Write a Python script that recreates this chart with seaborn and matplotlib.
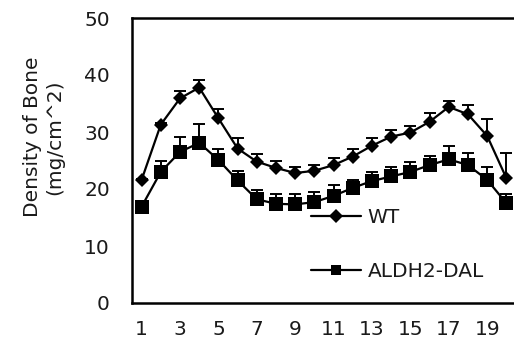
import matplotlib
matplotlib.use("Agg")
import matplotlib.pyplot as plt
import numpy as np
import pandas as pd
import seaborn as sns

# day index along the x axis
days = list(range(1, 21))

wt_mean = [21.6, 31.3, 35.9, 37.8, 32.4, 27.1, 24.8, 23.7, 22.8, 23.2,
           24.2, 25.7, 27.6, 29.2, 29.9, 31.8, 34.4, 33.1, 29.3, 21.9]
wt_err = [0.2, 0.3, 1.3, 1.3, 1.6, 1.8, 1.3, 1.2, 1.1, 1.0,
          1.3, 1.4, 1.4, 1.2, 1.2, 1.5, 1.1, 1.6, 2.9, 4.5]

aldh_mean = [16.9, 23.0, 26.5, 28.1, 25.1, 21.5, 18.2, 17.4, 17.3, 17.7,
             18.8, 20.2, 21.4, 22.2, 23.0, 24.2, 25.2, 24.2, 21.6, 17.5]
aldh_err = [0.3, 1.9, 2.7, 3.3, 1.9, 1.7, 1.7, 1.8, 1.8, 1.7,
            1.9, 1.4, 1.6, 1.7, 1.8, 1.6, 2.4, 2.2, 2.2, 1.6]

groups = ["WT", "ALDH2-DAL"]

df = pd.DataFrame({
    "day": days * 2,
    "density": wt_mean + aldh_mean,
    "err": wt_err + aldh_err,
    "group": [groups[0]] * 20 + [groups[1]] * 20,
})

sns.set_style("white")
plt.rcParams["font.family"] = ["DejaVu Sans"]

fig = plt.figure(figsize=(5.14, 3.45), dpi=100)
ax = fig.add_axes([132 / 514, 42 / 345, 384 / 514, 285 / 345])

sns.lineplot(data=df, x="day", y="density", hue="group", style="group",
             hue_order=groups, style_order=groups,
             palette=["black", "black"], markers={"WT": "D", "ALDH2-DAL": "s"},
             markersize=10, dashes=False, linewidth=1.6, markeredgewidth=0,
             ax=ax, zorder=3)
# WT diamonds a bit smaller
for line, ms in zip(ax.lines, [6.8, 10.5]):
    line.set_markersize(ms)

for g in groups:
    sub = df[df["group"] == g]
    ax.errorbar(sub["day"], sub["density"],
                yerr=[np.zeros(len(sub)), sub["err"]],
                fmt="none", ecolor="black", elinewidth=1.4, capsize=4.5,
                capthick=1.4, zorder=2)

ax.set_xlim(0.5, 20.5)
ax.set_ylim(0, 50)
ax.set_yticks([0, 10, 20, 30, 40, 50])
ax.set_xticks(days[::2])
ax.set_xticks(np.arange(0.5, 20.6, 1), minor=True)
ax.tick_params(axis="x", which="major", length=0, pad=12, labelsize=14.5,
               labelcolor="#1a1a1a")
ax.tick_params(axis="x", which="minor", direction="in", length=7, width=1.2)
ax.tick_params(axis="y", direction="in", length=6, width=1.2, pad=16,
               labelsize=14.5, labelcolor="#1a1a1a")
ax.set_xlabel("")
ax.set_ylabel("")

for side in ["left", "bottom", "top"]:
    ax.spines[side].set_linewidth(1.8)
    ax.spines[side].set_color("black")
ax.spines["right"].set_visible(False)

fig.text(44 / 514, 1 - 137 / 345, "Density of Bone\n(mg/cm^2)",
         rotation=90, ha="center", va="center", multialignment="center",
         fontsize=14.5, color="#1a1a1a")

leg = ax.legend(loc="upper left", bbox_to_anchor=(311 / 514, 1 - 208 / 345),
                bbox_transform=fig.transFigure, frameon=False,
                borderpad=0, borderaxespad=0, handlelength=2.5,
                handletextpad=0.3, labelspacing=1.75, markerscale=0.75,
                fontsize=14.5)
for t in leg.get_texts():
    t.set_color("#1a1a1a")

fig.savefig("out.png", dpi=100, facecolor="white")
